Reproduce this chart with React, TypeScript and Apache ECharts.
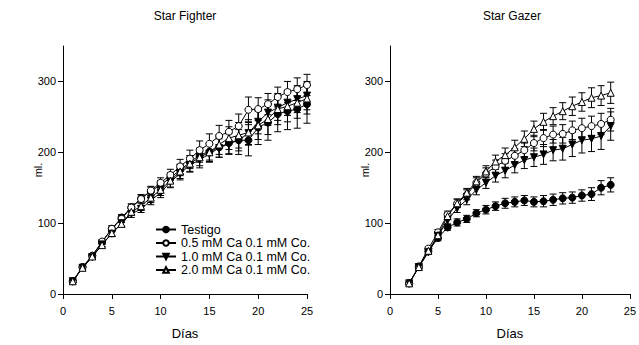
import React, { useEffect, useRef } from 'react';
import * as echarts from 'echarts';

const seriesNames = ['Testigo', '0.5 mM Ca 0.1 mM Co.', '1.0 mM Ca 0.1 mM Co.', '2.0 mM Ca 0.1 mM Co.'];
const xTicks = [0, 5, 10, 15, 20, 25];
const yTicks = [0, 100, 200, 300];

// Star Fighter
const daysFighter = [1, 2, 3, 4, 5, 6, 7, 8, 9, 10, 11, 12, 13, 14, 15, 16, 17, 18, 19, 20, 21, 22, 23, 24, 25];
const fTestigo = [18, 38, 54, 73, 92, 108, 122, 135, 145, 154, 164, 175, 186, 196, 201, 207, 213, 217, 217, 235, 242, 254, 258, 261, 268];
const fCa05 = [18, 38, 54, 74, 92, 106, 122, 134, 146, 157, 168, 180, 191, 203, 212, 223, 229, 237, 260, 261, 268, 278, 285, 289, 295];
const fCa10 = [18, 37, 52, 70, 85, 100, 113, 120, 132, 143, 158, 170, 182, 189, 198, 206, 212, 217, 227, 243, 256, 263, 270, 275, 280];
const fCa20 = [18, 37, 53, 69, 86, 99, 116, 124, 136, 147, 160, 173, 184, 193, 200, 211, 220, 224, 228, 238, 247, 261, 265, 270, 276];
const fErrTestigo = [2, 2, 3, 3, 4, 4, 5, 5, 6, 6, 7, 8, 9, 10, 12, 14, 16, 20, 22, 24, 25, 25, 26, 27, 27];
const fErrCa05 = [2, 2, 3, 3, 4, 5, 5, 6, 6, 7, 8, 10, 12, 13, 14, 15, 16, 17, 18, 16, 15, 14, 15, 16, 15];
const fErrCa10 = [2, 2, 3, 3, 4, 4, 5, 5, 6, 7, 8, 9, 10, 11, 12, 13, 14, 15, 16, 17, 18, 18, 18, 19, 20];
const fErrCa20 = [2, 2, 3, 3, 4, 4, 5, 6, 7, 8, 9, 10, 11, 12, 13, 14, 16, 18, 18, 20, 22, 22, 22, 22, 22];

// Star Gazer
const daysGazer = [2, 3, 4, 5, 6, 7, 8, 9, 10, 11, 12, 13, 14, 15, 16, 17, 18, 19, 20, 21, 22, 23];
const gTestigo = [15, 38, 60, 79, 94, 101, 106, 114, 119, 124, 128, 130, 132, 130, 131, 133, 135, 136, 139, 141, 150, 154];
const gCa05 = [15, 39, 64, 87, 112, 128, 140, 157, 170, 180, 188, 195, 203, 213, 220, 225, 226, 231, 234, 237, 240, 246];
const gCa10 = [15, 38, 59, 82, 104, 121, 133, 147, 157, 167, 174, 182, 189, 193, 197, 203, 205, 211, 217, 219, 223, 237];
const gCa20 = [15, 38, 61, 83, 110, 128, 143, 159, 173, 187, 196, 207, 219, 233, 243, 251, 258, 265, 271, 277, 280, 284];
const gErrTestigo = [2, 3, 3, 4, 4, 5, 5, 5, 6, 6, 7, 7, 7, 7, 8, 8, 8, 8, 8, 9, 10, 10];
const gErrCa05 = [2, 3, 3, 4, 5, 6, 7, 7, 8, 9, 10, 10, 10, 11, 12, 12, 13, 13, 14, 14, 15, 16];
const gErrCa10 = [2, 3, 3, 4, 5, 6, 7, 7, 8, 9, 10, 11, 12, 13, 14, 15, 16, 17, 18, 18, 19, 20];
const gErrCa20 = [2, 3, 3, 4, 5, 6, 6, 7, 8, 9, 10, 10, 11, 11, 12, 12, 12, 13, 13, 14, 14, 15];

const markers = [
  { symbol: 'circle', fill: '#000', rotate: 0 },
  { symbol: 'circle', fill: '#fff', rotate: 0 },
  { symbol: 'triangle', fill: '#000', rotate: 180 },
  { symbol: 'triangle', fill: '#fff', rotate: 0 },
];

const FONT = 'Liberation Sans, Arial, sans-serif';

export default function App() {
  const ref = useRef<HTMLDivElement>(null);
  useEffect(() => {
    if (!ref.current) return;
    const chart = echarts.init(ref.current, undefined, { renderer: 'svg' });

    const fVals = [fTestigo, fCa05, fCa10, fCa20];
    const fErrs = [fErrTestigo, fErrCa05, fErrCa10, fErrCa20];
    const gVals = [gTestigo, gCa05, gCa10, gCa20];
    const gErrs = [gErrTestigo, gErrCa05, gErrCa10, gErrCa20];

    const errSeries = (idx: number, days: number[], vals: number[], errs: number[]) => ({
      type: 'custom',
      xAxisIndex: idx,
      yAxisIndex: idx,
      z: 1,
      silent: true,
      data: days.map((d, i) => [d, vals[i], errs[i]]),
      renderItem: (params: any, api: any) => {
        const x = api.value(0);
        const y = api.value(1);
        const e = api.value(2);
        const hi = api.coord([x, y + e]);
        const lo = api.coord([x, y - e]);
        const w = 3.5;
        const st = { stroke: '#000', lineWidth: 1 };
        return {
          type: 'group',
          children: [
            { type: 'line', shape: { x1: hi[0], y1: hi[1], x2: lo[0], y2: lo[1] }, style: st },
            { type: 'line', shape: { x1: hi[0] - w, y1: hi[1], x2: hi[0] + w, y2: hi[1] }, style: st },
            { type: 'line', shape: { x1: lo[0] - w, y1: lo[1], x2: lo[0] + w, y2: lo[1] }, style: st },
          ],
        };
      },
    });

    const lineSeries = (idx: number, k: number, days: number[], vals: number[]) => ({
      type: 'line',
      name: seriesNames[k],
      xAxisIndex: idx,
      yAxisIndex: idx,
      z: 3 + k,
      data: days.map((d, i) => [d, vals[i]]),
      symbol: markers[k].symbol,
      symbolRotate: markers[k].rotate,
      symbolSize: 7,
      showAllSymbol: true,
      lineStyle: { color: '#000', width: 1 },
      itemStyle: { color: markers[k].fill, borderColor: '#000', borderWidth: 1 },
    });

    const series: any[] = [];
    for (let k = 0; k < 4; k++) series.push(errSeries(0, daysFighter, fVals[k], fErrs[k]));
    for (let k = 0; k < 4; k++) series.push(errSeries(1, daysGazer, gVals[k], gErrs[k]));
    for (let k = 0; k < 4; k++) series.push(lineSeries(0, k, daysFighter, fVals[k]));
    for (let k = 0; k < 4; k++) series.push(lineSeries(1, k, daysGazer, gVals[k]));

    const xAxis = (idx: number) => ({
      type: 'value',
      gridIndex: idx,
      min: xTicks[0],
      max: xTicks[xTicks.length - 1],
      interval: 5,
      name: 'Días',
      nameLocation: 'middle',
      nameGap: 33,
      nameMoveOverlap: false,
      nameTextStyle: { fontSize: 13, color: '#000', fontFamily: FONT },
      axisLine: { show: true, lineStyle: { color: '#000', width: 1 } },
      axisTick: { show: true, length: 5, lineStyle: { color: '#000' } },
      axisLabel: { fontSize: 11, color: '#000', fontFamily: FONT, margin: 11 },
      splitLine: { show: false },
    });
    const yAxis = (idx: number) => ({
      type: 'value',
      gridIndex: idx,
      min: yTicks[0],
      max: 350,
      interval: 100,
      name: 'ml.',
      nameLocation: 'middle',
      nameGap: 20,
      nameRotate: 90,
      nameMoveOverlap: false,
      nameTextStyle: { fontSize: 11, color: '#000', fontFamily: FONT },
      axisLine: { show: true, lineStyle: { color: '#000', width: 1 } },
      axisTick: { show: true, length: 5, customValues: yTicks, lineStyle: { color: '#000' } },
      axisLabel: { fontSize: 11, color: '#000', fontFamily: FONT, margin: 7, customValues: yTicks },
      splitLine: { show: false },
    });

    chart.setOption({
      animation: false,
      backgroundColor: '#fff',
      textStyle: { fontFamily: FONT },
      grid: [
        { left: 63, right: 332, top: 46, bottom: 47 },
        { left: 390, right: 6, top: 46, bottom: 47 },
      ],
      xAxis: [xAxis(0), xAxis(1)],
      yAxis: [yAxis(0), yAxis(1)],
      legend: {
        data: seriesNames,
        orient: 'vertical',
        left: 155,
        top: 223,
        padding: 0,
        itemWidth: 20,
        itemHeight: 7,
        itemGap: 0.5,
        selectedMode: false,
        textStyle: { fontSize: 12.5, lineHeight: 12, color: '#000', fontFamily: FONT, padding: [0, 0, 0, 0] },
      },
      graphic: [
        { type: 'text', x: 185, y: 16, style: { text: 'Star Fighter', fontSize: 12, fill: '#000', fontFamily: FONT, textAlign: 'center', textVerticalAlign: 'middle' } },
        { type: 'text', x: 512, y: 16, style: { text: 'Star Gazer', fontSize: 12, fill: '#000', fontFamily: FONT, textAlign: 'center', textVerticalAlign: 'middle' } },
      ],
      series,
    });
    return () => chart.dispose();
  }, []);
  return <div ref={ref} style={{ position: 'fixed', left: 0, top: 0, width: 639, height: 345 }} />;
}
